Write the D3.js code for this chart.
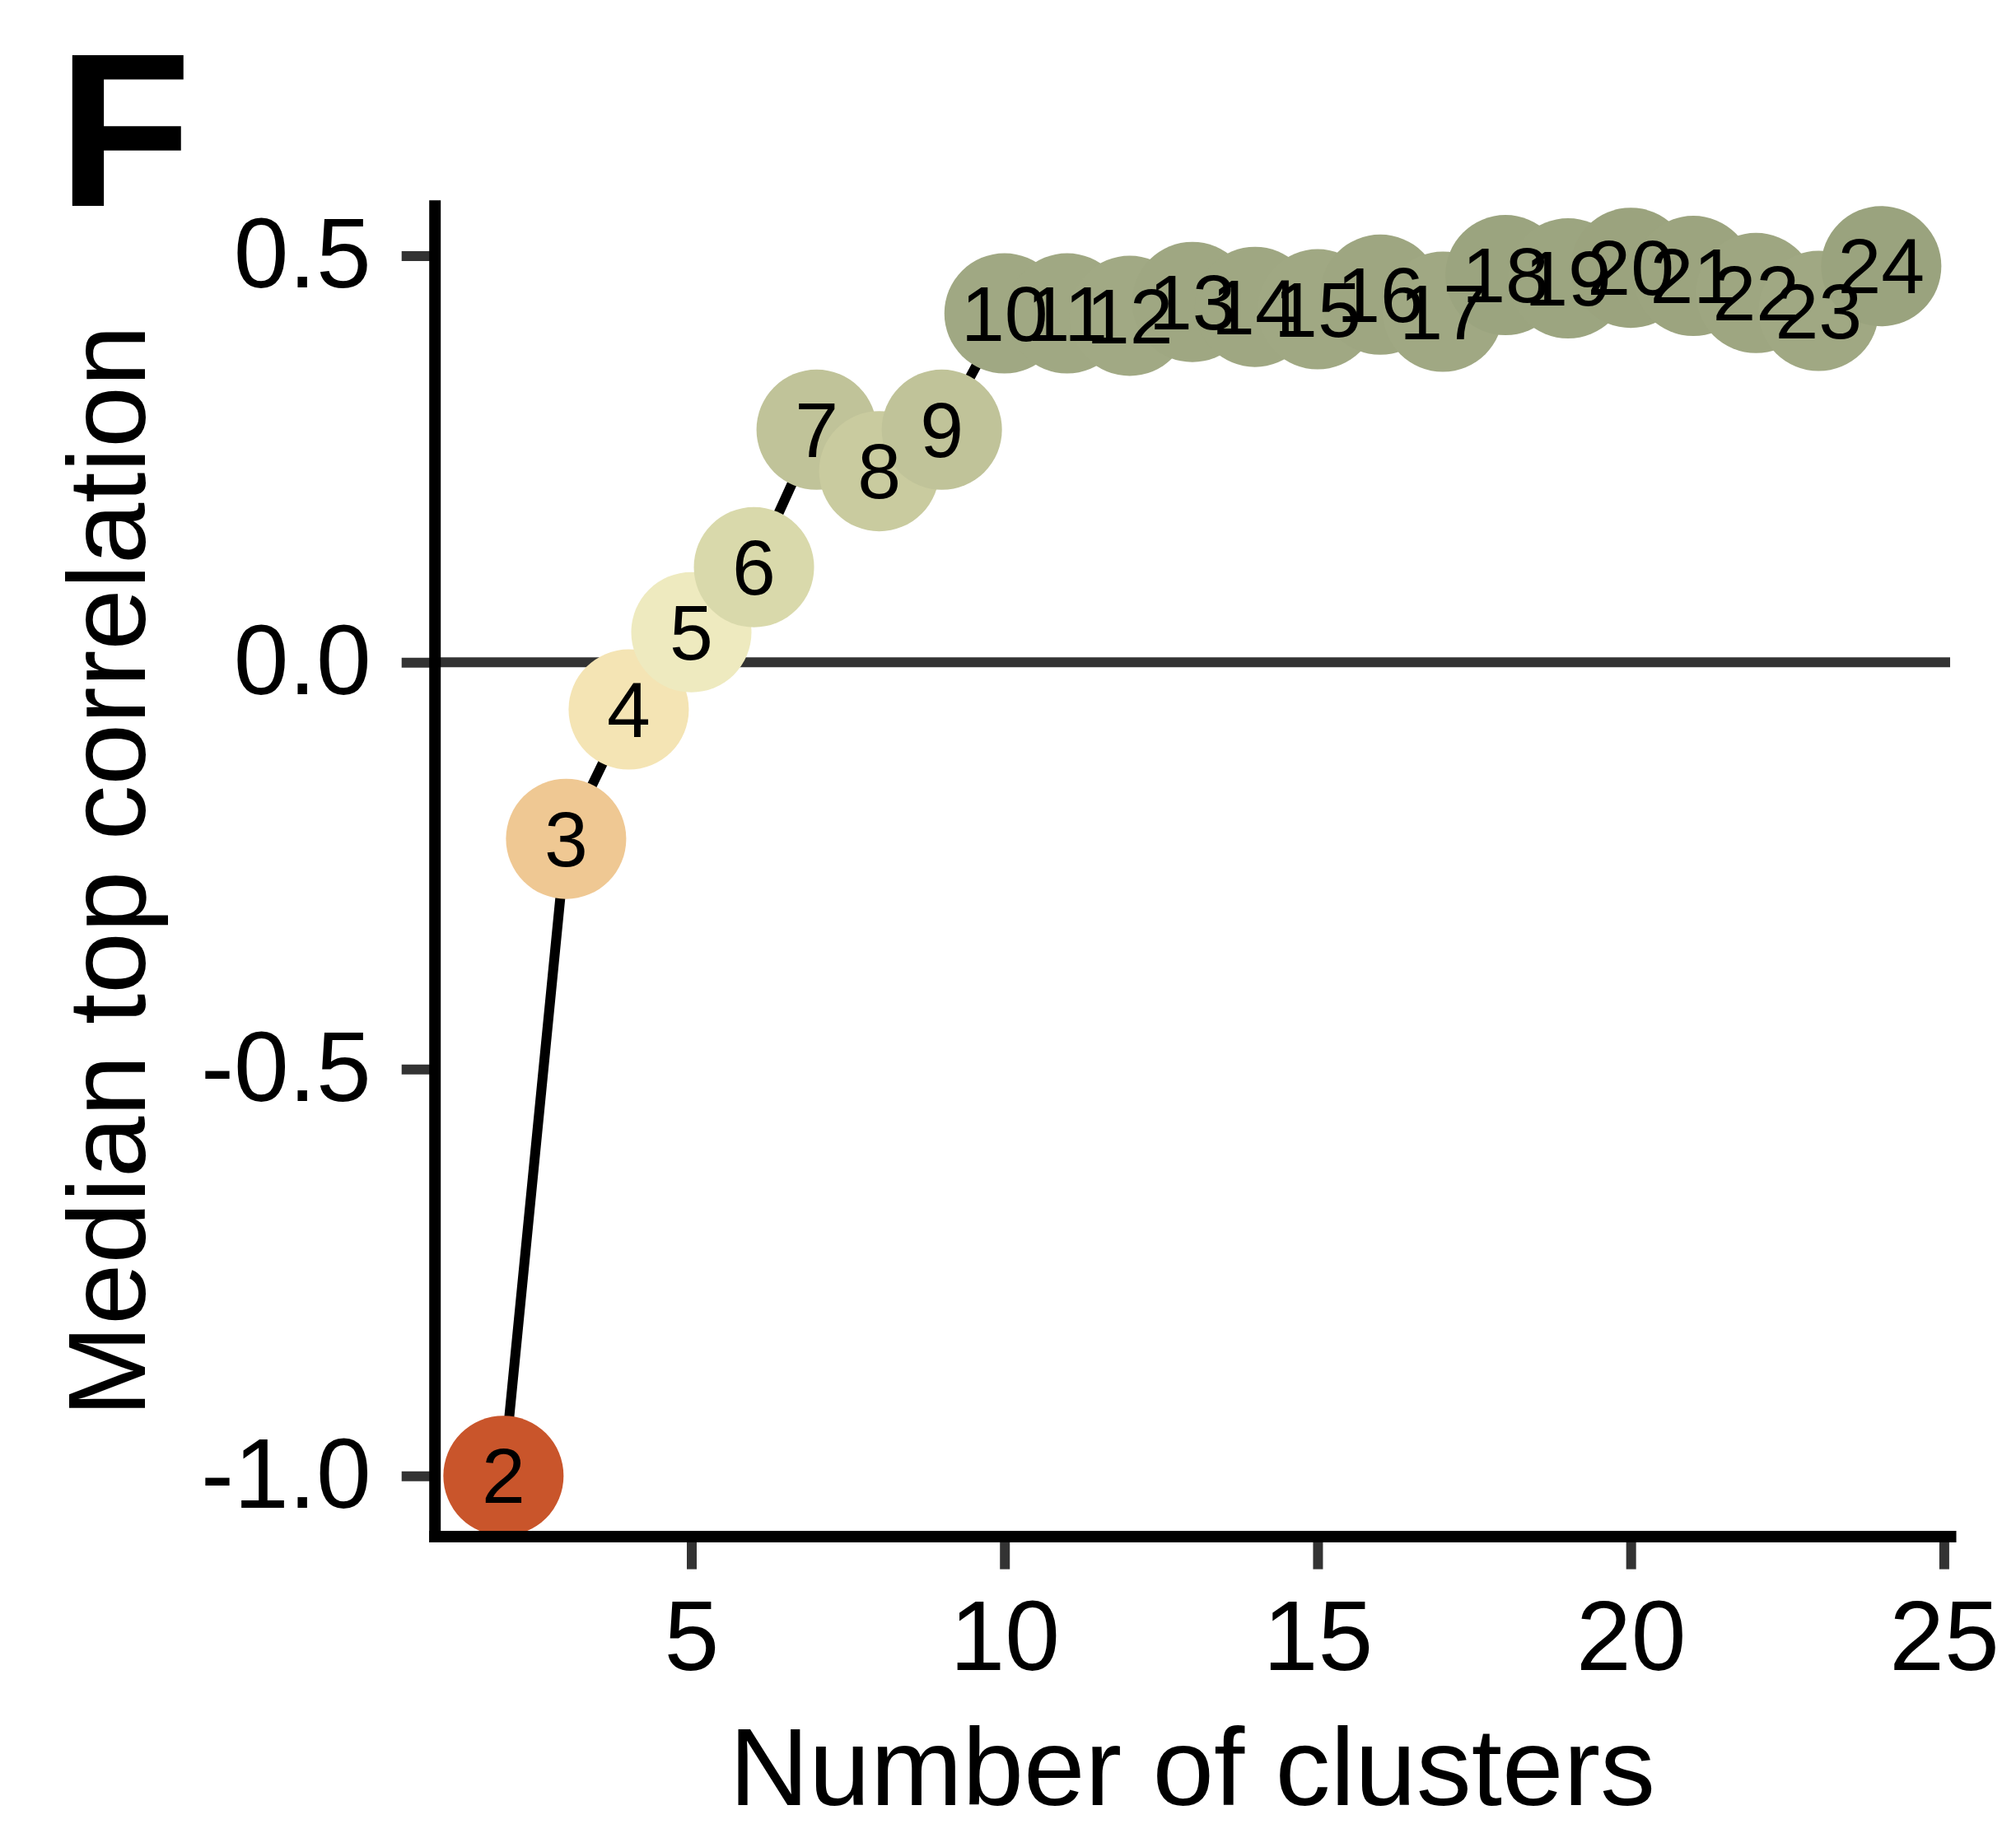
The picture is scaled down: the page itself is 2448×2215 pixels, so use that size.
<!DOCTYPE html>
<html lang='en'>
<head>
  <meta charset='UTF-8'>
  <title>Median top correlation</title>
  <style>
    body { margin: 0; background: #fff; }
    text { font-family: 'Liberation Sans', Arial, Helvetica, sans-serif; }
  </style>
</head>
<body>
  <script src='https://cdn.jsdelivr.net/npm/d3@7'></script>
  <script>
// data
const clusters = [2, 3, 4, 5, 6, 7, 8, 9, 10, 11, 12, 13, 14, 15, 16, 17, 18, 19, 20, 21, 22, 23, 24];
const medianCorr = [-1.0, -0.217, -0.058, 0.037, 0.117, 0.286, 0.235, 0.286, 0.429, 0.429, 0.426, 0.443,
                    0.437, 0.434, 0.452, 0.431, 0.476, 0.472, 0.485, 0.475, 0.454, 0.432, 0.487];
const xTicks = [5, 10, 15, 20, 25];
const yTicks = [-1.0, -0.5, 0.0, 0.5];

const width = 2448;
const height = 2215;
const plotLeft = 527.7, plotRight = 2368, plotTop = 249.8, plotBottom = 1865.6;

const svg = d3.select('body').append('svg')
    .attr('width', width)
    .attr('height', height);

// ggplot style 5% expansion
const xr = d3.extent(clusters);
const xPad = (xr[1] - xr[0]) * 0.05;
const x = d3.scaleLinear().domain([xr[0] - xPad, xr[1] + xPad]).range([plotLeft, plotRight]);

const yr = d3.extent(medianCorr);
const yPad = (yr[1] - yr[0]) * 0.05;
const y = d3.scaleLinear().domain([yr[0] - yPad, yr[1] + yPad]).range([plotBottom, plotTop]);

// fill colour follows the value
const color = d3.scaleLinear()
    .domain([-1.0, -0.217, -0.058, 0.037, 0.117, 0.235, 0.286, 0.43, 0.49])
    .range(['#c9552b', '#efc893', '#f4e4b4', '#eeeabf', '#d9d9ab', '#c9cb9f', '#c0c399', '#a0a883', '#9aa37e'])
    .clamp(true);

const pts = clusters.map((k, i) => ({k: k, v: medianCorr[i]}));

// zero line
svg.append('line')
    .attr('x1', plotLeft).attr('x2', plotRight)
    .attr('y1', y(0)).attr('y2', y(0))
    .attr('stroke', '#333')
    .attr('stroke-width', 12);

// connecting line
const line = d3.line().x(d => x(d.k)).y(d => y(d.v));
svg.append('path')
    .datum(pts)
    .attr('d', line)
    .attr('fill', 'none')
    .attr('stroke', '#000')
    .attr('stroke-width', 12);

svg.append('g').selectAll('circle')
    .data(pts)
    .enter().append('circle')
    .attr('cx', d => x(d.k))
    .attr('cy', d => y(d.v))
    .attr('r', 73)
    .attr('fill', d => color(d.v));

svg.append('g').selectAll('text')
    .data(pts)
    .enter().append('text')
    .attr('x', d => x(d.k))
    .attr('y', d => y(d.v))
    .attr('text-anchor', 'middle')
    .attr('dominant-baseline', 'central')
    .attr('font-size', 95)
    .attr('fill', '#000')
    .text(d => d.k);

// axes
const xAxis = svg.append('g')
    .attr('transform', 'translate(0,' + plotBottom + ')')
    .call(d3.axisBottom(x).tickValues(xTicks).tickSize(40).tickSizeOuter(0).tickPadding(37));

const yAxis = svg.append('g')
    .attr('transform', 'translate(' + plotLeft + ',0)')
    .call(d3.axisLeft(y).tickValues(yTicks).tickFormat(d => d.toFixed(1))
      .tickSize(40).tickSizeOuter(0).tickPadding(37));

[xAxis, yAxis].forEach(a => {
  a.select('.domain')
      .attr('stroke', '#000')
      .attr('stroke-width', 14)
      .attr('stroke-linecap', 'square');
  a.selectAll('.tick line')
      .attr('stroke', '#333')
      .attr('stroke-width', 12);
  a.selectAll('.tick text')
      .attr('font-size', 120)
      .attr('fill', '#000')
      .style('font-family', "'Liberation Sans', Arial, sans-serif");
});
// keep domain on top of ticks
xAxis.select('.domain').raise();
yAxis.select('.domain').raise();

// titles
svg.append('text')
    .attr('x', (plotLeft + plotRight) / 2)
    .attr('y', 2192)
    .attr('text-anchor', 'middle')
    .attr('font-size', 134)
    .text('Number of clusters');

svg.append('text')
    .attr('transform', 'translate(176,' + (plotTop + plotBottom) / 2 + ') rotate(-90)')
    .attr('text-anchor', 'middle')
    .attr('font-size', 134)
    .text('Median top correlation');

// panel letter
svg.append('text')
    .attr('x', 70)
    .attr('y', 250)
    .attr('font-size', 266)
    .attr('font-weight', 'bold')
    .text('F');
  </script>
</body>
</html>
